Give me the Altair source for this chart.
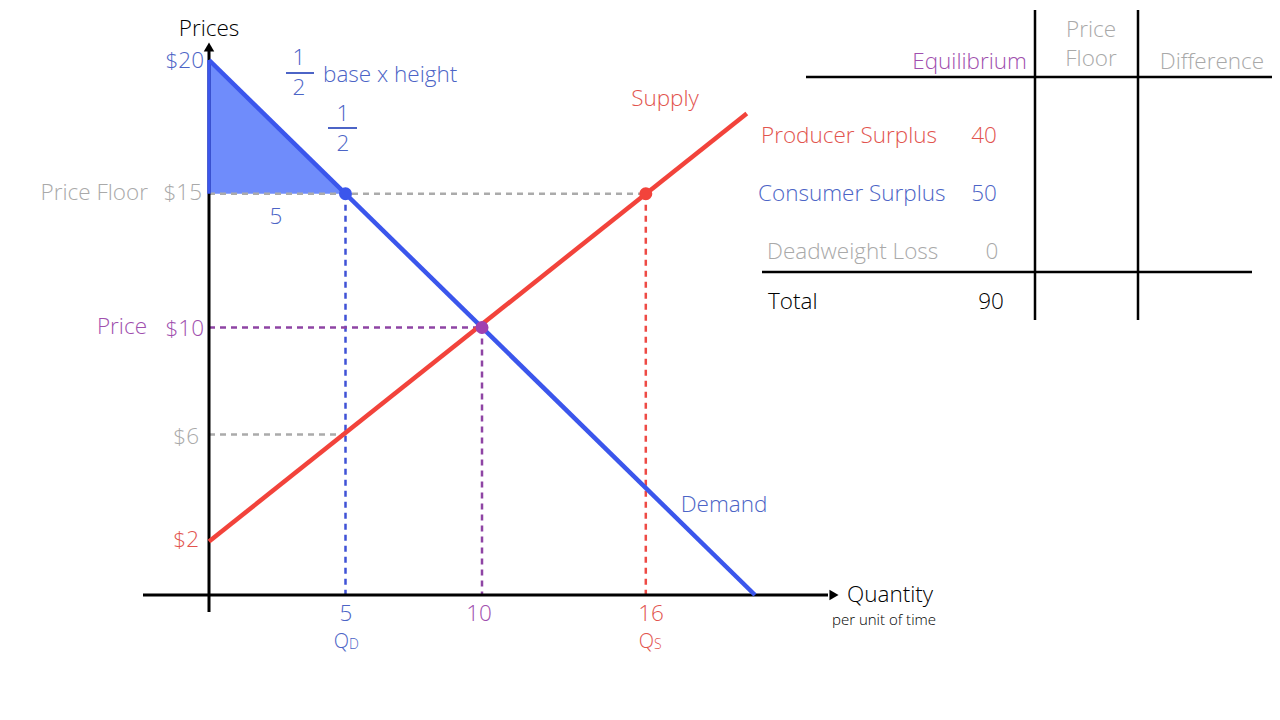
import altair as alt
import pandas as pd

# ---------------- data ----------------
demand_q = [0, 20]
demand_p = [20, 0]
supply_q = [0, 19.7]
supply_p = [2, 18]
floor_price = 15
eq_q, eq_p = 10, 10
qd, qs = 5, 16
supply_at_qd = 6
cs_tri_q = [0, 5]
cs_tri_top = [20, 15]
cs_tri_bottom = [15, 15]

table_rows = ["Producer Surplus", "Consumer Surplus", "Deadweight Loss", "Total"]
table_eq = ["40", "50", "0", "90"]
table_cols = ["Equilibrium", "Price", "Floor", "Difference"]

# ---------------- layout helpers ----------------
X0, SX, Y0, SY, OFF = 209, 27.3, 595, 26.75, 8
W, H = 1264, 704


def dx(px):
    return (px - X0) / SX


def dy(py):
    return (Y0 - py) / SY


XS = alt.Scale(domain=[dx(OFF), dx(OFF + W)], nice=False, zero=False)
YS = alt.Scale(domain=[dy(OFF + H), dy(OFF)], nice=False, zero=False)

FONT = "Open Sans"
FW = 300
FS = 22.5
BLUE_T = "#4c64c6"
RED_T = "#e2544e"
PURP_T = "#a04fae"
GRAY_T = "#a9a9a9"
BLUE_L = "#3b56ec"
RED_L = "#f2433b"
PURP_L = "#8e44a4"
GRAY_L = "#ababab"


def X(f="x"):
    return alt.X(f + ":Q", scale=XS, axis=None)


def Y(f="y"):
    return alt.Y(f + ":Q", scale=YS, axis=None)


layers = []

# shaded consumer surplus triangle
tri = pd.DataFrame({"x": cs_tri_q, "y": cs_tri_top, "y2": cs_tri_bottom})
layers.append(alt.Chart(tri).mark_area(color="#6f8cfb", opacity=1).encode(
    x=X(), y=Y(), y2="y2:Q"))


def segs(rows, color, width, dash=None):
    df = pd.DataFrame(rows, columns=["x", "y", "x2", "y2"])
    kw = dict(color=color, strokeWidth=width)
    if dash:
        kw["strokeDash"] = dash
    return alt.Chart(df).mark_rule(**kw).encode(x=X(), y=Y(), x2="x2:Q", y2="y2:Q")


# dashed guide lines
layers.append(segs([(0, floor_price, qs, floor_price), (0, supply_at_qd, qd, supply_at_qd)],
                   GRAY_L, 2.5, [6, 5]))
layers.append(segs([(qd, floor_price, qd, 0)], "#3f52d6", 2.5, [6, 5]))
layers.append(segs([(0, eq_p, eq_q, eq_p), (eq_q, eq_p, eq_q, 0)], PURP_L, 2.5, [6, 5]))
layers.append(segs([(qs, floor_price, qs, 0)], "#ee4a45", 2.5, [6, 5]))

# axes
layers.append(segs([(dx(143), 0, dx(828), 0), (0, dy(612), 0, dy(50))], "black", 3))
layers.append(segs([(0, 15, 0, 20)], "#3b56ec", 3.5))
arrows = pd.DataFrame({"x": [dx(209), dx(834)], "y": [dy(47), dy(595)],
                       "s": ["triangle-up", "triangle-right"]})
layers.append(alt.Chart(arrows).mark_point(filled=True, color="black", size=110, opacity=1).encode(
    x=X(), y=Y(), shape=alt.Shape("s:N", scale=None)))

# fraction bars
layers.append(segs([(dx(286), dy(73), dx(314), dy(73)), (dx(328), dy(128), dx(357), dy(128))],
                   BLUE_T, 2))

# demand & supply curves
dem = pd.DataFrame({"x": demand_q, "y": demand_p})
sup = pd.DataFrame({"x": supply_q, "y": supply_p})
layers.append(alt.Chart(dem).mark_line(color=BLUE_L, strokeWidth=4.5).encode(x=X(), y=Y()))
layers.append(alt.Chart(sup).mark_line(color=RED_L, strokeWidth=4.5).encode(x=X(), y=Y()))

# key points
pts = pd.DataFrame({"x": [qd, eq_q, qs], "y": [floor_price, eq_p, floor_price],
                    "c": [BLUE_L, "#a041b0", RED_L]})
layers.append(alt.Chart(pts).mark_point(filled=True, size=170, opacity=1).encode(
    x=X(), y=Y(), color=alt.Color("c:N", scale=None)))

# table lines
layers.append(segs([(dx(806), dy(77), dx(1272), dy(77)), (dx(762), dy(272), dx(1252), dy(272)),
                    (dx(1035), dy(10), dx(1035), dy(320)), (dx(1138), dy(10), dx(1138), dy(320))],
                   "black", 2.5))

# ---------------- texts ----------------
texts = [
    # (px, py, text, color, size, align)
    (209, 29, "Prices", "black", FS, "center"),
    (204, 61, "$20", BLUE_T, FS, "right"),
    (148, 193, "Price Floor", GRAY_T, FS, "right"),
    (202, 193, "$15", GRAY_T, FS, "right"),
    (276, 217, "5", BLUE_T, FS, "center"),
    (299, 58, "1", BLUE_T, FS, "center"),
    (299, 88, "2", BLUE_T, FS, "center"),
    (323, 75, "base x  height", BLUE_T, FS, "left"),
    (343, 114, "1", BLUE_T, FS, "center"),
    (343, 144, "2", BLUE_T, FS, "center"),
    (665, 99, "Supply", RED_T, FS, "center"),
    (724, 505, "Demand", BLUE_T, FS, "center"),
    (147, 327, "Price", PURP_T, FS, "right"),
    (204, 329, "$10", PURP_T, FS, "right"),
    (199, 437, "$6", GRAY_T, FS, "right"),
    (199, 540, "$2", RED_T, FS, "right"),
    (346, 614, str(qd), BLUE_T, FS, "center"),
    (349, 642, "Q", BLUE_T, 20, "right"),
    (349, 645, "D", BLUE_T, 14, "left"),
    (479, 614, str(eq_q), PURP_T, FS, "center"),
    (651, 614, str(qs), RED_T, FS, "center"),
    (654, 642, "Q", RED_T, 20, "right"),
    (654, 645, "S", RED_T, 14, "left"),
    (847, 595, "Quantity", "black", FS, "left"),
    (832, 620, "per unit of time", "black", 15, "left"),
    # table
    (1027, 62, table_cols[0], PURP_T, FS, "right"),
    (1091, 30, table_cols[1], GRAY_T, FS, "center"),
    (1091, 59, table_cols[2], GRAY_T, FS, "center"),
    (1212, 62, table_cols[3], GRAY_T, FS, "center"),
    (761, 136, table_rows[0], RED_T, FS, "left"),
    (758, 194, table_rows[1], BLUE_T, FS, "left"),
    (767, 252, table_rows[2], GRAY_T, FS, "left"),
    (768, 302, table_rows[3], "black", FS, "left"),
    (984, 136, table_eq[0], RED_T, FS, "center"),
    (984, 194, table_eq[1], BLUE_T, FS, "center"),
    (992, 252, table_eq[2], GRAY_T, FS, "center"),
    (991, 302, table_eq[3], "black", FS, "center"),
]
tdf = pd.DataFrame(texts, columns=["px", "py", "t", "c", "fs", "a"])
tdf["x"] = tdf["px"].map(dx)
tdf["y"] = tdf["py"].map(dy)
for a in ["left", "center", "right"]:
    sub = tdf[tdf["a"] == a]
    layers.append(alt.Chart(sub).mark_text(align=a, baseline="middle", font=FONT,
                                           fontWeight=FW).encode(
        x=X(), y=Y(), text="t:N", color=alt.Color("c:N", scale=None),
        size=alt.Size("fs:Q", scale=None)))

chart = alt.layer(*layers).properties(
    width=W, height=H, padding=0, autosize=alt.AutoSizeParams(type="none"),
    background="white",
).configure_view(stroke=None)

chart.save("out.html", embed_options={"renderer": "svg", "actions": False})
